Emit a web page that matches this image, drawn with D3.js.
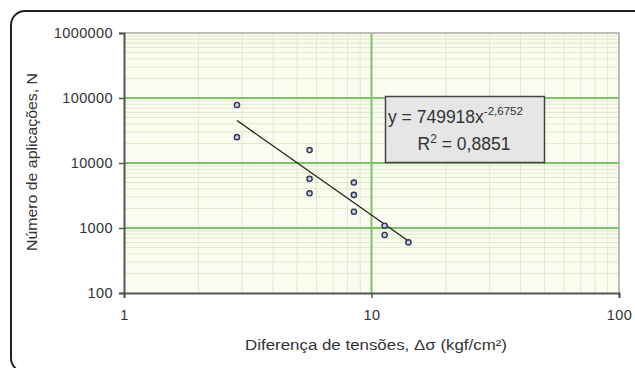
<!DOCTYPE html>
<html>
<head>
<meta charset="utf-8">
<script src="https://cdn.jsdelivr.net/npm/d3@7"></script>
<style>
	body { margin: 0; background: #fff; overflow: hidden; }
	text { font-family: "Liberation Sans", Arial, sans-serif; fill: #333; }
</style>
</head>
<body>
<div id="chart"></div>
<script>
// ensaio de fadiga: diferença de tensões x número de aplicações
const deltaSigma = [2.86, 2.86, 5.62, 5.62, 5.62, 8.49, 8.49, 8.49, 11.3, 11.3, 14.1]
const cycles = [78000, 25000, 15800, 5700, 3420, 5000, 3230, 1780, 1085, 780, 600]
const xTicks = [1, 10, 100]
const yTicks = [100, 1000, 10000, 100000, 1000000]
const fitA = 749918
const fitB = -2.6752
const eqLine1 = "y = 749918x"
const eqExp = "-2,6752"
const eqLine2 = "0,8851"

const W = 635
const H = 368
const plot = { left: 124, top: 33, right: 619, bottom: 293 }

const svg = d3.select("#chart").append("svg").attr("width", W).attr("height", H).style("display", "block")

// moldura arredondada: só topo e lado esquerdo aparecem
svg.append("path")
	.attr("d", "M640,11 H25 A14,14 0 0 0 11,25 V358 A14,14 0 0 0 25,372 H640")
	.attr("fill", "none")
	.attr("stroke", "#222")
	.attr("stroke-width", 2)

const x = d3.scaleLog().domain([1, 100]).range([plot.left, plot.right])
const y = d3.scaleLog().domain([100, 1000000]).range([plot.bottom, plot.top])

svg.append("rect")
	.attr("x", plot.left)
	.attr("y", plot.top)
	.attr("width", plot.right - plot.left)
	.attr("height", plot.bottom - plot.top)
	.attr("fill", "#fbfcef")

const minorX = []
for (let d = 1; d < 100; d *= 10) for (let k = 2; k <= 9; k++) minorX.push(d * k)
const minorY = []
for (let d = 100; d < 1000000; d *= 10) for (let k = 2; k <= 9; k++) minorY.push(d * k)

const grid = svg.append("g")
grid.selectAll(".mx").data(minorX).enter().append("line")
	.attr("x1", d => x(d)).attr("x2", d => x(d))
	.attr("y1", plot.top).attr("y2", plot.bottom)
	.attr("stroke", "#dcebc9").attr("stroke-width", 1)
grid.selectAll(".my").data(minorY).enter().append("line")
	.attr("y1", d => y(d)).attr("y2", d => y(d))
	.attr("x1", plot.left).attr("x2", plot.right)
	.attr("stroke", "#dcebc9").attr("stroke-width", 1)
grid.selectAll(".Mx").data(xTicks.slice(1, -1)).enter().append("line")
	.attr("x1", d => x(d)).attr("x2", d => x(d))
	.attr("y1", plot.top).attr("y2", plot.bottom)
	.attr("stroke", "#7cc46a").attr("stroke-width", 2)
grid.selectAll(".My").data(yTicks.slice(1, -1)).enter().append("line")
	.attr("y1", d => y(d)).attr("y2", d => y(d))
	.attr("x1", plot.left).attr("x2", plot.right)
	.attr("stroke", "#7cc46a").attr("stroke-width", 2)

// bordas superior e direita
svg.append("path")
	.attr("d", `M${plot.left},${plot.top}H${plot.right}V${plot.bottom}`)
	.attr("fill", "none")
	.attr("stroke", "#a8a8a8")
	.attr("stroke-width", 1.5)

const yAxis = svg.append("g")
	.attr("transform", `translate(${plot.left},0)`)
	.call(d3.axisLeft(y).tickValues(yTicks).tickFormat(d3.format("d")).tickSize(5).tickPadding(6))
const xAxis = svg.append("g")
	.attr("transform", `translate(0,${plot.bottom})`)
	.call(d3.axisBottom(x).tickValues(xTicks).tickFormat(d3.format("d")).tickSize(5).tickPadding(12))

for (const ax of [yAxis, xAxis]) {
	ax.select(".domain").attr("stroke", "#555").attr("stroke-width", 2)
	ax.selectAll(".tick line").attr("stroke", "#555").attr("stroke-width", 1.5)
	ax.selectAll(".tick text")
		.style("font-family", '"Liberation Sans", Arial, sans-serif')
		.style("font-size", "14.5px")
		.style("letter-spacing", "0.4px")
		.attr("fill", "#333")
}

// linha de tendência (potência) entre os extremos dos dados
const xExt = d3.extent(deltaSigma)
svg.append("line")
	.attr("x1", x(xExt[0])).attr("y1", y(fitA * Math.pow(xExt[0], fitB)))
	.attr("x2", x(xExt[1])).attr("y2", y(fitA * Math.pow(xExt[1], fitB)))
	.attr("stroke", "#222")
	.attr("stroke-width", 1.3)

svg.selectAll(".pt").data(deltaSigma).enter().append("circle")
	.attr("cx", d => x(d))
	.attr("cy", (d, i) => y(cycles[i]))
	.attr("r", 2.6)
	.attr("fill", "#c9cde0")
	.attr("stroke", "#2f3656")
	.attr("stroke-width", 1.4)

// caixa da equação
const box = svg.append("g")
box.append("rect")
	.attr("x", 385.5).attr("y", 96.5)
	.attr("width", 159).attr("height", 66)
	.attr("fill", "#e6e6e6")
	.attr("stroke", "#444")
	.attr("stroke-width", 1.5)
const t1 = box.append("text").attr("x", 388).attr("y", 123).style("font-size", "17.5px")
t1.append("tspan").text(eqLine1)
t1.append("tspan").attr("dy", -8).style("font-size", "11.5px").text(eqExp)
const t2 = box.append("text").attr("x", 464).attr("y", 150).attr("text-anchor", "middle").style("font-size", "17.5px")
t2.append("tspan").text("R")
t2.append("tspan").attr("dy", -7).style("font-size", "12px").text("2")
t2.append("tspan").attr("dy", 7).text(" = " + eqLine2)

svg.append("text")
	.attr("x", 376)
	.attr("y", 350)
	.attr("text-anchor", "middle")
	.attr("textLength", 262)
	.attr("lengthAdjust", "spacingAndGlyphs")
	.style("font-size", "14px")
	.text("Diferença de tensões, Δσ (kgf/cm²)")

svg.append("text")
	.attr("transform", "translate(37,162) rotate(-90)")
	.attr("text-anchor", "middle")
	.attr("textLength", 178)
	.attr("lengthAdjust", "spacingAndGlyphs")
	.style("font-size", "14px")
	.text("Número de aplicações, N")
</script>
</body>
</html>
